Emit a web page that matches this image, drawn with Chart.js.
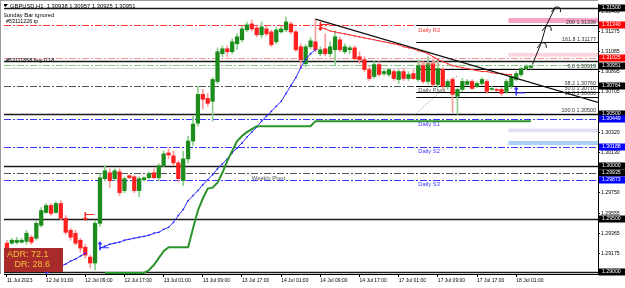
<!DOCTYPE html>
<html>
<head>
<meta charset="utf-8">
<title>GBPUSD,H1</title>
<script src="https://cdn.jsdelivr.net/npm/chart.js@4.4.1/dist/chart.umd.min.js"></script>
<style>
  html, body { margin: 0; padding: 0; background: #fff; }
  canvas { display: block; }
</style>
</head>
<body>
<canvas id="chart" width="625" height="288"></canvas>
<script>
// GBPUSD H1, 11 Jul 17:00 .. 18 Jul 04:00 (bar index on x)
const symbolTitle = 'GBPUSD,H1  1.30938 1.30957 1.30925 1.30951';
const noteLines = ['Sunday Bar ignored', '#53111226 tp', '#53111858 buy 0.18'];

const open = [
  1.29273, 1.29273, 1.29280, 1.29282, 1.29290, 1.29329, 1.29320, 1.29442, 1.29564, 1.29630,
  1.29564, 1.29649, 1.29508, 1.29395, 1.29367, 1.29301, 1.29235, 1.29141, 1.29085, 1.29461,
  1.29884, 1.29940, 1.29884, 1.29949, 1.29771, 1.29912, 1.29902, 1.29771, 1.29874, 1.29893,
  1.29940, 1.29893, 1.30006, 1.30128, 1.30100, 1.30034, 1.29865, 1.30072, 1.30241, 1.30410,
  1.30683, 1.30645, 1.30617, 1.30805, 1.31068, 1.31115, 1.31087, 1.31162, 1.31200, 1.31294,
  1.31350, 1.31312, 1.31247, 1.31303, 1.31275, 1.31181, 1.31275, 1.31294, 1.31350, 1.31275,
  1.31134, 1.30974, 1.31134, 1.31181, 1.31068, 1.31115, 1.31068, 1.31106, 1.31200, 1.31087,
  1.31106, 1.31124, 1.31040, 1.31012, 1.30918, 1.30852, 1.30965, 1.30880, 1.30871, 1.30899,
  1.30824, 1.30899, 1.30833, 1.30880, 1.30824, 1.30955, 1.30805, 1.30974, 1.30777, 1.30918,
  1.30758, 1.30824, 1.30664, 1.30730, 1.30777, 1.30805, 1.30758, 1.30786, 1.30805, 1.30730,
  1.30730, 1.30730, 1.30711, 1.30758, 1.30824, 1.30871, 1.30927, 1.30938
];
const high = [
  1.29301, 1.29320, 1.29329, 1.29320, 1.29395, 1.29348, 1.29480, 1.29611, 1.29649, 1.29649,
  1.29667, 1.29677, 1.29536, 1.29414, 1.29395, 1.29320, 1.29263, 1.29160, 1.29489, 1.29931,
  1.30006, 1.29978, 1.29978, 1.29978, 1.29902, 1.29921, 1.29912, 1.29902, 1.29902, 1.29949,
  1.29978, 1.30025, 1.30147, 1.30166, 1.30147, 1.30053, 1.30147, 1.30288, 1.30476, 1.30758,
  1.30730, 1.30692, 1.30842, 1.31124, 1.31143, 1.31143, 1.31209, 1.31256, 1.31331, 1.31369,
  1.31388, 1.31331, 1.31369, 1.31331, 1.31294, 1.31322, 1.31331, 1.31416, 1.31369, 1.31294,
  1.31162, 1.31153, 1.31218, 1.31397, 1.31134, 1.31256, 1.31181, 1.31284, 1.31228, 1.31162,
  1.31143, 1.31143, 1.31087, 1.31040, 1.30946, 1.30993, 1.30993, 1.30918, 1.30927, 1.30918,
  1.30918, 1.30927, 1.30899, 1.30918, 1.31012, 1.30993, 1.31040, 1.31012, 1.31012, 1.30936,
  1.30824, 1.30842, 1.30748, 1.30833, 1.30824, 1.30824, 1.30805, 1.30842, 1.30824, 1.30758,
  1.30739, 1.30748, 1.30824, 1.30871, 1.30899, 1.30936, 1.30965, 1.30957
];
const low = [
  1.29179, 1.29263, 1.29263, 1.29273, 1.29263, 1.29263, 1.29301, 1.29423, 1.29555, 1.29536,
  1.29555, 1.29489, 1.29357, 1.29301, 1.29254, 1.29188, 1.29132, 1.29038, 1.29019, 1.29432,
  1.29865, 1.29799, 1.29865, 1.29724, 1.29752, 1.29884, 1.29752, 1.29714, 1.29865, 1.29884,
  1.29884, 1.29865, 1.29996, 1.30072, 1.30006, 1.29855, 1.29818, 1.30034, 1.30194, 1.30382,
  1.30542, 1.30570, 1.30429, 1.30786, 1.31040, 1.31040, 1.31068, 1.31106, 1.31181, 1.31275,
  1.31284, 1.31228, 1.31218, 1.31237, 1.31134, 1.31162, 1.31265, 1.31275, 1.31256, 1.31087,
  1.30927, 1.30946, 1.31115, 1.31087, 1.31049, 1.31049, 1.31040, 1.30965, 1.31087, 1.31068,
  1.31068, 1.31002, 1.30974, 1.30899, 1.30814, 1.30833, 1.30852, 1.30861, 1.30852, 1.30814,
  1.30786, 1.30814, 1.30814, 1.30824, 1.30805, 1.30786, 1.30777, 1.30758, 1.30748, 1.30730,
  1.30730, 1.30513, 1.30495, 1.30711, 1.30767, 1.30730, 1.30748, 1.30767, 1.30692, 1.30720,
  1.30711, 1.30673, 1.30692, 1.30739, 1.30814, 1.30852, 1.30918, 1.30925
];
const close = [
  1.29207, 1.29301, 1.29301, 1.29301, 1.29367, 1.29282, 1.29461, 1.29583, 1.29630, 1.29555,
  1.29649, 1.29508, 1.29376, 1.29329, 1.29273, 1.29226, 1.29160, 1.29085, 1.29461, 1.29893,
  1.29959, 1.29865, 1.29959, 1.29752, 1.29884, 1.29893, 1.29771, 1.29884, 1.29893, 1.29931,
  1.29893, 1.30006, 1.30119, 1.30109, 1.30034, 1.29884, 1.30072, 1.30241, 1.30401, 1.30683,
  1.30636, 1.30598, 1.30824, 1.31087, 1.31115, 1.31087, 1.31181, 1.31228, 1.31303, 1.31341,
  1.31303, 1.31247, 1.31322, 1.31256, 1.31153, 1.31294, 1.31303, 1.31369, 1.31275, 1.31106,
  1.31012, 1.31134, 1.31190, 1.31106, 1.31106, 1.31068, 1.31134, 1.31228, 1.31106, 1.31134,
  1.31124, 1.31021, 1.31012, 1.30918, 1.30833, 1.30965, 1.30871, 1.30899, 1.30918, 1.30833,
  1.30899, 1.30833, 1.30871, 1.30833, 1.30955, 1.30805, 1.30974, 1.30777, 1.30927, 1.30758,
  1.30805, 1.30683, 1.30730, 1.30805, 1.30805, 1.30739, 1.30786, 1.30824, 1.30711, 1.30739,
  1.30720, 1.30692, 1.30805, 1.30852, 1.30880, 1.30927, 1.30946, 1.30951
];

const tickBars = [0, 8, 16, 24, 32, 40, 48, 56, 64, 72, 80, 88, 96, 104];
const tickLabels = ['11 Jul 2023', '12 Jul 01:00', '12 Jul 09:00', '12 Jul 17:00', '13 Jul 01:00',
  '13 Jul 09:00', '13 Jul 17:00', '14 Jul 01:00', '14 Jul 09:00', '14 Jul 17:00', '17 Jul 01:00',
  '17 Jul 09:00', '17 Jul 17:00', '18 Jul 01:00'];

const axisPrices = [1.31465, 1.31275, 1.31085, 1.30895, 1.30705, 1.30320, 1.30130,
  1.29750, 1.29555, 1.29365, 1.29175];
const markPrices = [1.31500, 1.31340, 1.31025, 1.30951, 1.30764, 1.30500, 1.30449,
  1.30188, 1.30000, 1.29935, 1.29873, 1.29500, 1.29000];
const markKinds = ['round', 'resist', 'resist', 'bid', 'pivot', 'round', 'support',
  'support', 'round', 'pivot', 'support', 'round', 'round'];

const roundLevels = [1.31500, 1.31000, 1.30500, 1.30000, 1.29500, 1.29000];
const pivotNames = ['Daily R2', 'Daily R1', 'Daily Pivot', 'Daily S1', 'Daily S2', 'Weekly Pivot', 'Daily S3'];
const pivotPrices = [1.31340, 1.31025, 1.30764, 1.30449, 1.30188, 1.29935, 1.29873];

const fibNames = ['200', '161.8', '0.0', '38.2', '50.0', '61.8', '100.0'];
const fibPrices = [1.31336, 1.31177, 1.30919, 1.30760, 1.30710, 1.30660, 1.30500];
const fibAnchorBars = [83.6, 92];
const fibAnchorPrices = [1.30500, 1.30860];

const orderBuyPrice = 1.30958;
const bidPrice = 1.30936;

const zoneLow = [1.31359, 1.31040, 1.30325, 1.30203];
const zoneHigh = [1.31406, 1.31077, 1.30358, 1.30241];
const zoneStartBar = 102.4;

const trendBars = [63, 120.7];
const trendPrices = [1.31397, 1.30607];

const pathBars = [107.3, 109.1, 110.1, 112.0];
const pathPrices = [1.30965, 1.31171, 1.31331, 1.31510];

const blueStartA = 8;
const blueA = [1.28991, 1.29009, 1.29038, 1.29056, 1.29075, 1.29103, 1.29122, 1.29150, 1.29179];
const blueStartB = 19;
const blueB = [
  1.29226, 1.29244, 1.29263, 1.29273, 1.29282, 1.29301, 1.29310, 1.29320, 1.29329, 1.29338,
  1.29348, 1.29367, 1.29376, 1.29404, 1.29423, 1.29470, 1.29536, 1.29592, 1.29677, 1.29724,
  1.29771, 1.29827, 1.29874, 1.29921, 1.29978, 1.30025, 1.30072, 1.30128, 1.30175, 1.30222,
  1.30278, 1.30325, 1.30372, 1.30429, 1.30476, 1.30523, 1.30570, 1.30617, 1.30692, 1.30767,
  1.30842, 1.30936, 1.31012, 1.31068, 1.31106
];
const redStart = 64;
const redLine = [
  1.31322, 1.31303, 1.31284, 1.31275, 1.31265, 1.31256, 1.31247, 1.31237, 1.31228, 1.31218,
  1.31209, 1.31200, 1.31190, 1.31181, 1.31171, 1.31162, 1.31153, 1.31134, 1.31124, 1.31115,
  1.31096, 1.31087, 1.31068, 1.31040, 1.31012, 1.30993, 1.30974, 1.30955, 1.30946, 1.30936,
  1.30927, 1.30918, 1.30908, 1.30899, 1.30899, 1.30889, 1.30880, 1.30880, 1.30871, 1.30871
];
const greenBars = [20, 28, 29, 30, 31, 32, 33, 37, 38, 39, 40, 41, 42, 43, 44, 45, 46, 47, 48, 49, 50, 51, 62, 63, 107];
const greenVals = [1.28990, 1.28990, 1.29019, 1.29066, 1.29132, 1.29197, 1.29235, 1.29235, 1.29414, 1.29583,
  1.29696, 1.29790, 1.29799, 1.29846, 1.29940, 1.30053, 1.30147, 1.30241, 1.30288, 1.30325,
  1.30354, 1.30382, 1.30382, 1.30429, 1.30429];

const sellBars = [16, 64];
const sellPrices = [1.29530, 1.31331];
const buyBars = [19, 104];
const buyPrices = [1.29244, 1.30711];

const adr = 72.1;
const dr = 28.6;

const FONT = '"Liberation Sans", Arial, sans-serif';
const DASHDOT = [7, 2, 2, 2];

const bars = open.map((_, i) => i);
const upBars = bars.filter(i => close[i] >= open[i]);
const downBars = bars.filter(i => close[i] < open[i]);

function body(i) { return { x: i, y: [Math.min(open[i], close[i]), Math.max(open[i], close[i])] }; }
function wick(i) { return { x: i, y: [low[i], high[i]] }; }

const candleBase = { type: 'bar', grouped: false, borderWidth: 0, minBarLength: 1 };
const datasets = [
  { ...candleBase, data: upBars.map(body), backgroundColor: '#1c8c1c', barThickness: 3.6, order: 2 },
  { ...candleBase, data: downBars.map(body), backgroundColor: '#ff1f1f', barThickness: 3.6, order: 2 },
  { ...candleBase, data: upBars.map(wick), backgroundColor: '#8ccf8c', barThickness: 1, order: 3 },
  { ...candleBase, data: downBars.map(wick), backgroundColor: '#ff9a9a', barThickness: 1, order: 3 },
  { type: 'line', data: greenBars.map((b, k) => ({ x: b, y: greenVals[k] })),
    borderColor: '#2c922c', borderWidth: 2, pointRadius: 0, order: 1 },
  { type: 'line', data: blueA.map((v, k) => ({ x: blueStartA + k, y: v })),
    borderColor: '#2a2aff', borderWidth: 1, pointRadius: 0.9, pointBackgroundColor: '#2a2aff', pointBorderWidth: 0, order: 1 },
  { type: 'line', data: blueB.map((v, k) => ({ x: blueStartB + k, y: v })),
    borderColor: '#2a2aff', borderWidth: 1, pointRadius: 0.9, pointBackgroundColor: '#2a2aff', pointBorderWidth: 0, order: 1 },
  { type: 'line', data: redLine.map((v, k) => ({ x: redStart + k, y: v })),
    borderColor: '#ff3030', borderWidth: 1, pointRadius: 0.8, pointBackgroundColor: '#ff3030', pointBorderWidth: 0, order: 1 }
];

function seg(ctx, x0, y0, x1, y1, color, width, dash) {
  ctx.beginPath();
  ctx.setLineDash(dash || []);
  ctx.strokeStyle = color;
  ctx.lineWidth = width;
  ctx.moveTo(x0, y0);
  ctx.lineTo(x1, y1);
  ctx.stroke();
  ctx.setLineDash([]);
}

function label(ctx, str, x, y, color, size, align) {
  ctx.font = size + 'px ' + FONT;
  ctx.fillStyle = color;
  ctx.textAlign = align || 'left';
  ctx.textBaseline = 'middle';
  ctx.fillText(str, x, y);
}

function pivotColor(name) {
  if (name.includes('R2')) return '#ff3434';
  if (name.includes('R1')) return '#f29494';
  if (name.includes('Pivot')) return '#555555';
  return '#3737ff';
}

function signal(ctx, x, y, color, up) {
  const d = up ? 1 : -1;
  seg(ctx, x, y + 4 * d, x, y - 3 * d, color, 1.5);
  ctx.beginPath();
  ctx.fillStyle = color;
  ctx.moveTo(x, y - 5 * d);
  ctx.lineTo(x - 2.5, y - 2 * d);
  ctx.lineTo(x + 2.5, y - 2 * d);
  ctx.closePath();
  ctx.fill();
  seg(ctx, x, y + 1.5 * d, x + 9, y + 1.5 * d, color, 1);
}

const overlay = {
  id: 'overlay',
  beforeDatasetsDraw(chart) {
    const { ctx, chartArea: a, scales: { x, y } } = chart;
    const Y = p => Math.round(y.getPixelForValue(p)) + 0.5;
    ctx.save();
    ctx.beginPath();
    ctx.rect(a.left, a.top, a.right - a.left, a.bottom - a.top);
    ctx.clip();

    const zoneColors = ['#f6a3c6', '#fcd6de', '#dfdff7', '#a9cff3'];
    const zx = x.getPixelForValue(zoneStartBar);
    zoneLow.forEach((lo, k) => {
      const top = y.getPixelForValue(zoneHigh[k]);
      ctx.fillStyle = zoneColors[k];
      ctx.fillRect(zx, top, a.right - zx, y.getPixelForValue(lo) - top);
    });

    roundLevels.forEach(p => seg(ctx, a.left, Y(p), a.right, Y(p), '#1a1a1a', 1.4));
    seg(ctx, a.left, Y(orderBuyPrice), a.right, Y(orderBuyPrice), '#86c986', 1, DASHDOT);
    seg(ctx, a.left, Y(bidPrice), a.right, Y(bidPrice), '#d4d4d4', 1);
    pivotPrices.forEach((p, k) => seg(ctx, a.left, Y(p), a.right, Y(p), pivotColor(pivotNames[k]), 1, DASHDOT));

    const fx = x.getPixelForValue(fibAnchorBars[0]);
    fibPrices.forEach(p => seg(ctx, fx, Y(p), a.right, Y(p), '#000', 1));
    seg(ctx, fx, y.getPixelForValue(fibAnchorPrices[0]), x.getPixelForValue(fibAnchorBars[1]),
      y.getPixelForValue(fibAnchorPrices[1]), '#777', 1, [1, 2]);
    ctx.restore();
  },
  afterDatasetsDraw(chart) {
    const { ctx, chartArea: a, scales: { x, y } } = chart;
    ctx.save();
    ctx.beginPath();
    ctx.rect(a.left, a.top, a.right - a.left, a.bottom - a.top);
    ctx.clip();

    seg(ctx, x.getPixelForValue(trendBars[0]), y.getPixelForValue(trendPrices[0]),
      x.getPixelForValue(trendBars[1]), y.getPixelForValue(trendPrices[1]), '#111', 1.3);

    // projected path with arrow heads
    ctx.beginPath();
    ctx.strokeStyle = '#111';
    ctx.lineWidth = 1;
    pathBars.forEach((b, k) => {
      const px = x.getPixelForValue(b), py = y.getPixelForValue(pathPrices[k]);
      if (k === 0) ctx.moveTo(px, py); else ctx.lineTo(px, py);
    });
    ctx.stroke();
    pathBars.forEach((b, k) => {
      if (k === 0) return;
      const px = x.getPixelForValue(b), py = y.getPixelForValue(pathPrices[k]);
      ctx.beginPath();
      ctx.moveTo(px - 4, py + 5);
      ctx.lineTo(px, py);
      ctx.quadraticCurveTo(px + 6, py - 1, px + 5, py + 5);
      ctx.stroke();
    });

    sellBars.forEach((b, k) => signal(ctx, x.getPixelForValue(b), y.getPixelForValue(sellPrices[k]), '#ff2020', false));
    buyBars.forEach((b, k) => signal(ctx, x.getPixelForValue(b), y.getPixelForValue(buyPrices[k]), '#2a2aff', true));

    // pivot labels
    pivotNames.forEach((n, k) => {
      const lx = x.getPixelForValue(n.startsWith('Weekly') ? 50 : 84);
      label(ctx, n, lx, y.getPixelForValue(pivotPrices[k]) + 5, pivotColor(n), 5.8);
    });
    // fib labels
    fibNames.forEach((n, k) => {
      label(ctx, n + ' ' + fibPrices[k].toFixed(5), a.right - 2, y.getPixelForValue(fibPrices[k]) - 3, '#333', 5.4, 'right');
    });

    // title and order notes
    ctx.fillStyle = '#000';
    ctx.beginPath();
    ctx.moveTo(3, 4); ctx.lineTo(8, 4); ctx.lineTo(5.5, 7); ctx.closePath(); ctx.fill();
    label(ctx, symbolTitle, 10, 6, '#000', 5.8);
    label(ctx, noteLines[0], 3, 15, '#000', 5.8);
    label(ctx, noteLines[1], 6, 22, '#000', 5.4);
    label(ctx, noteLines[2], 6, y.getPixelForValue(1.31000) - 0.5, '#000', 5.4);

    // ADR panel
    ctx.fillStyle = '#a82a2a';
    ctx.fillRect(3, 248, 60, 24);
    label(ctx, 'ADR: ' + adr.toFixed(1), 7, 255, '#f3c236', 9);
    label(ctx, 'DR: ' + dr.toFixed(1), 50, 265, '#f3c236', 9, 'right');
    ctx.restore();
  },
  afterDraw(chart) {
    const { ctx, chartArea: a, scales: { y } } = chart;
    ctx.save();
    const kindColor = { round: '#000', bid: '#000', pivot: '#000', resist: '#ff0000', support: '#0000ff' };
    markPrices.forEach((p, k) => {
      const py = Math.round(y.getPixelForValue(p));
      ctx.fillStyle = kindColor[markKinds[k]];
      ctx.fillRect(a.right + 1, py - 3.5, 26, 7);
      label(ctx, p.toFixed(5), a.right + 4, py, '#fff', 5.2);
    });
    seg(ctx, 0, 0.5, a.right, 0.5, '#9a9a9a', 1);
    seg(ctx, 0.5, 0, 0.5, a.bottom, '#9a9a9a', 1);
    ctx.restore();
  }
};

new Chart(document.getElementById('chart'), {
  type: 'bar',
  data: { datasets },
  options: {
    responsive: false,
    animation: false,
    devicePixelRatio: 1,
    layout: { padding: { top: 2, left: 0, right: 0, bottom: 0 } },
    plugins: { legend: { display: false }, tooltip: { enabled: false } },
    scales: {
      x: {
        type: 'linear', min: -0.6, max: 120.7, offset: false,
        grid: { display: true, offset: false, drawOnChartArea: false, tickLength: 3, color: '#000' },
        border: { display: true, color: '#000' },
        ticks: {
          color: '#000', font: { size: 5, family: FONT }, padding: 1, maxRotation: 0,
          autoSkip: false, align: 'start', callback: (v, i) => tickLabels[i]
        },
        afterBuildTicks: s => { s.ticks = tickBars.map(v => ({ value: v })); },
        afterFit: s => { s.height = 14; }
      },
      y: {
        type: 'linear', position: 'right', min: 1.28981, max: 1.31538,
        grid: { display: true, drawOnChartArea: false, tickLength: 2, color: '#000' },
        border: { display: true, color: '#000' },
        ticks: { color: '#000', font: { size: 5.2, family: FONT }, padding: 1, callback: v => v.toFixed(5) },
        afterBuildTicks: s => { s.ticks = axisPrices.map(v => ({ value: v })); },
        afterFit: s => { s.width = 27; }
      }
    }
  },
  plugins: [overlay]
});
</script>
</body>
</html>
